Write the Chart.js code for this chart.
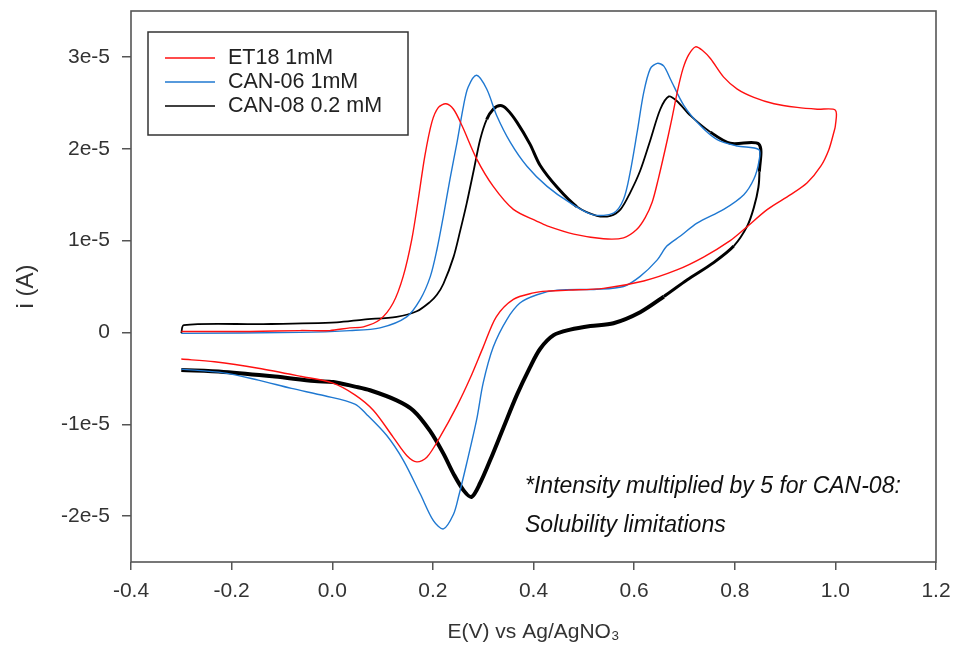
<!DOCTYPE html>
<html>
<head>
<meta charset="utf-8">
<title>CV ET18 / CAN-06 / CAN-08</title>
<script src="https://cdn.jsdelivr.net/npm/chart.js@4.4.1/dist/chart.umd.min.js"></script>
<style>
  html, body { margin: 0; padding: 0; background: #fff; }
  canvas { display: block; }
</style>
</head>
<body>
<canvas id="cvChart" width="953" height="647"></canvas>
<script>
// Currents are in units of 1e-5 A (the y tick labels carry the exponent)
const et18E = [-0.300, -0.164, -0.064, -0.005, 0.035, 0.062, 0.095, 0.121, 0.141, 0.158, 0.171, 0.184, 0.198, 0.211, 0.226, 0.241, 0.258, 0.287, 0.320, 0.360, 0.407, 0.427, 0.480, 0.539, 0.579, 0.605, 0.622, 0.636, 0.648, 0.662, 0.674, 0.687, 0.697, 0.708, 0.722, 0.736, 0.752, 0.778, 0.805, 0.838, 0.878, 0.924, 0.964, 1.000,
  1.000, 0.997, 0.987, 0.971, 0.944, 0.911, 0.865, 0.818, 0.791, 0.738, 0.685, 0.619, 0.539, 0.470, 0.426, 0.400, 0.360, 0.326, 0.300, 0.274, 0.248, 0.214, 0.188, 0.168, 0.148, 0.121, 0.082, 0.045, 0.000, -0.061, -0.147, -0.234, -0.300];
const et18I = [0.01, 0.01, 0.02, 0.02, 0.05, 0.06, 0.14, 0.32, 0.61, 1.01, 1.45, 1.92, 2.29, 2.45, 2.49, 2.43, 2.25, 1.89, 1.59, 1.34, 1.21, 1.16, 1.07, 1.02, 1.03, 1.12, 1.25, 1.42, 1.67, 2.00, 2.30, 2.65, 2.87, 3.02, 3.11, 3.07, 2.98, 2.78, 2.65, 2.56, 2.49, 2.45, 2.43, 2.42,
  2.25, 2.18, 1.99, 1.81, 1.63, 1.50, 1.34, 1.12, 1.00, 0.82, 0.68, 0.56, 0.48, 0.46, 0.45, 0.43, 0.36, 0.17, -0.16, -0.50, -0.80, -1.14, -1.36, -1.41, -1.34, -1.14, -0.85, -0.68, -0.55, -0.48, -0.39, -0.32, -0.29];

const can06E = [-0.300, -0.064, 0.035, 0.095, 0.148, 0.175, 0.195, 0.208, 0.221, 0.234, 0.248, 0.261, 0.270, 0.287, 0.307, 0.327, 0.354, 0.387, 0.427, 0.473, 0.519, 0.559, 0.579, 0.592, 0.606, 0.619, 0.632, 0.646, 0.659, 0.672, 0.699, 0.732, 0.765, 0.805, 0.848,
  0.848, 0.838, 0.818, 0.778, 0.725, 0.692, 0.665, 0.646, 0.612, 0.579, 0.526, 0.447, 0.407, 0.373, 0.347, 0.320, 0.300, 0.287, 0.267, 0.251, 0.241, 0.221, 0.201, 0.175, 0.141, 0.108, 0.068, 0.045, -0.015, -0.081, -0.147, -0.216, -0.300];
const can06I = [-0.01, 0.00, 0.02, 0.05, 0.17, 0.36, 0.61, 0.90, 1.27, 1.67, 2.07, 2.47, 2.67, 2.80, 2.65, 2.36, 2.07, 1.81, 1.59, 1.41, 1.28, 1.30, 1.45, 1.74, 2.18, 2.61, 2.87, 2.93, 2.90, 2.76, 2.47, 2.25, 2.10, 2.03, 1.99,
  1.86, 1.67, 1.50, 1.34, 1.19, 1.05, 0.94, 0.79, 0.61, 0.50, 0.47, 0.46, 0.41, 0.32, 0.14, -0.16, -0.55, -0.95, -1.43, -1.79, -1.98, -2.14, -2.05, -1.76, -1.39, -1.12, -0.89, -0.78, -0.69, -0.61, -0.52, -0.44, -0.40];

const can08E = [-0.300, -0.295, -0.137, 0.009, 0.062, 0.128, 0.168, 0.194, 0.208, 0.221, 0.241, 0.254, 0.267, 0.281, 0.294, 0.307, 0.320, 0.334, 0.347, 0.367, 0.393, 0.413, 0.447, 0.486, 0.526, 0.553, 0.573, 0.592, 0.612, 0.632, 0.652, 0.669, 0.685, 0.712, 0.752, 0.791, 0.848,
  0.849, 0.847, 0.838, 0.825, 0.798, 0.758, 0.705, 0.659, 0.612, 0.559, 0.513, 0.473, 0.440, 0.413, 0.393, 0.367, 0.340, 0.314, 0.294, 0.277, 0.261, 0.241, 0.221, 0.194, 0.161, 0.128, 0.075, 0.045, 0.002, -0.035, -0.114, -0.216, -0.300];
const can08I = [-0.01, 0.08, 0.09, 0.11, 0.14, 0.17, 0.23, 0.33, 0.41, 0.53, 0.82, 1.10, 1.40, 1.76, 2.10, 2.32, 2.43, 2.47, 2.43, 2.29, 2.05, 1.82, 1.58, 1.37, 1.27, 1.27, 1.34, 1.52, 1.76, 2.09, 2.43, 2.57, 2.52, 2.36, 2.18, 2.06, 2.05,
  1.75, 1.58, 1.36, 1.16, 0.94, 0.76, 0.57, 0.39, 0.22, 0.10, 0.07, 0.03, -0.03, -0.18, -0.38, -0.68, -1.04, -1.39, -1.64, -1.79, -1.72, -1.54, -1.32, -1.07, -0.85, -0.74, -0.63, -0.59, -0.54, -0.53, -0.48, -0.43, -0.41];

const seriesLabels = ['ET18 1mM', 'CAN-06 1mM', 'CAN-08 0.2 mM'];
const xTicks = [-0.4, -0.2, 0.0, 0.2, 0.4, 0.6, 0.8, 1.0, 1.2];
const xTickLabels = ['-0.4', '-0.2', '0.0', '0.2', '0.4', '0.6', '0.8', '1.0', '1.2'];
const yTicks = [-2, -1, 0, 1, 2, 3];
const yTickLabels = ['-2e-5', '-1e-5', '0', '1e-5', '2e-5', '3e-5'];
const noteLines = ['*Intensity multiplied by 5 for CAN-08:', 'Solubility limitations'];

const FONT = "'Liberation Sans', Arial, sans-serif";
const toPts = (xs, ys) => xs.map((x, i) => ({ x: x, y: ys[i] }));

// index where CAN-08 switches from forward to reverse scan
const can08Turn = can08E.indexOf(Math.max(...can08E));

// frame, legend box and note
const decorPlugin = {
  id: 'decor',
  afterDraw(chart) {
    const { ctx, chartArea: a } = chart;
    ctx.save();
    ctx.strokeStyle = '#555';
    ctx.lineWidth = 1.6;
    ctx.strokeRect(a.left, a.top, a.right - a.left, a.bottom - a.top);

    // legend
    ctx.strokeStyle = '#333';
    ctx.lineWidth = 1.5;
    ctx.strokeRect(148, 32, 260, 103);
    ctx.font = '21.5px ' + FONT;
    ctx.textBaseline = 'middle';
    chart.data.datasets.forEach((ds, i) => {
      const y = 58 + i * 24;
      ctx.strokeStyle = ds.borderColor;
      ctx.lineWidth = 1.5;
      ctx.beginPath();
      ctx.moveTo(165, y);
      ctx.lineTo(215, y);
      ctx.stroke();
      ctx.fillStyle = '#222';
      ctx.fillText(ds.label, 228, y);
    });

    // note
    ctx.font = 'italic 23px ' + FONT;
    ctx.textBaseline = 'alphabetic';
    ctx.fillStyle = '#111';
    ctx.fillText(noteLines[0], 525, 493);
    ctx.fillText(noteLines[1], 525, 532);
    ctx.restore();
  }
};

const ctx = document.getElementById('cvChart').getContext('2d');
new Chart(ctx, {
  type: 'scatter',
  data: {
    datasets: [
      {
        label: seriesLabels[0],
        data: toPts(et18E, et18I),
        borderColor: '#ff1010',
        borderWidth: 1.4,
        showLine: true,
        pointRadius: 0,
        tension: 0.3
      },
      {
        label: seriesLabels[1],
        data: toPts(can06E, can06I),
        borderColor: '#1f78d1',
        borderWidth: 1.4,
        showLine: true,
        pointRadius: 0,
        tension: 0.3
      },
      {
        label: seriesLabels[2],
        data: toPts(can08E, can08I),
        borderColor: '#000000',
        borderWidth: 2,
        showLine: true,
        pointRadius: 0,
        tension: 0.3,
        segment: {
          borderWidth: c => {
            const x = c.p0.parsed.x;
            if (c.p0DataIndex >= can08Turn) {
              if (x > 0.8) return 2;
              return x > 0.7 ? 3 : 4;
            }
            if (x > 0.3 && x < 0.45) return 3;
            if (x > 0.74) return 3;
            return 1.8;
          }
        }
      }
    ]
  },
  options: {
    responsive: false,
    animation: false,
    layout: { padding: { top: 11, right: 17, left: 0, bottom: 0 } },
    plugins: { legend: { display: false }, tooltip: { enabled: false } },
    scales: {
      x: {
        type: 'linear',
        min: -0.4,
        max: 1.2,
        afterBuildTicks: s => { s.ticks = xTicks.map(v => ({ value: v })); },
        afterFit: s => { s.height = 85; s.paddingLeft = 0; s.paddingRight = 0; },
        ticks: {
          callback: (v, i) => xTickLabels[i],
          font: { size: 21, family: FONT },
          color: '#333',
          padding: 9,
          maxRotation: 0,
          autoSkip: false
        },
        grid: { drawOnChartArea: false, tickLength: 8, color: '#555', lineWidth: 1.5 },
        border: { display: false },
        title: {
          display: true,
          text: 'E(V) vs Ag/AgNO₃',
          font: { size: 21, family: FONT },
          color: '#333',
          padding: { top: 0, bottom: 2 }
        }
      },
      y: {
        type: 'linear',
        min: -2.5,
        max: 3.5,
        afterBuildTicks: s => { s.ticks = yTicks.map(v => ({ value: v })); },
        afterFit: s => { s.width = 131; s.paddingTop = 0; s.paddingBottom = 0; },
        ticks: {
          callback: (v, i) => yTickLabels[i],
          font: { size: 21, family: FONT },
          color: '#333',
          padding: 12
        },
        grid: { drawOnChartArea: false, tickLength: 9, color: '#555', lineWidth: 1.5 },
        border: { display: false },
        title: {
          display: true,
          text: 'i (A)',
          font: { size: 24, family: FONT },
          color: '#333',
          padding: { top: 12, bottom: 0 }
        }
      }
    }
  },
  plugins: [decorPlugin]
});
</script>
</body>
</html>
